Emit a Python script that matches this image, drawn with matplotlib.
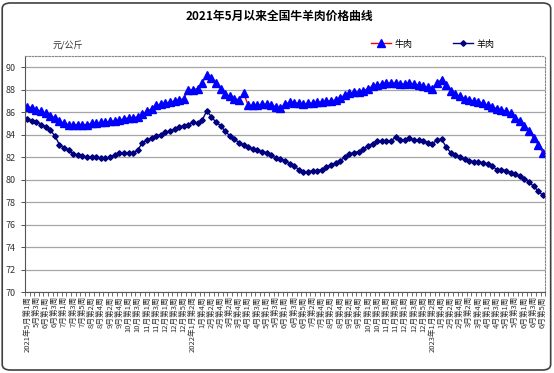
import matplotlib
matplotlib.use('Agg')
import matplotlib.pyplot as plt
from matplotlib.patches import FancyBboxPatch

plt.rcParams['font.family'] = ['Noto Sans CJK SC', 'DejaVu Sans']

# weeks in each month (year, month, number of weeks)
weeks_per_month = [
    (2021, 5, 4), (2021, 6, 4), (2021, 7, 5), (2021, 8, 4), (2021, 9, 5),
    (2021, 10, 4), (2021, 11, 4), (2021, 12, 5),
    (2022, 1, 4), (2022, 2, 4), (2022, 3, 5), (2022, 4, 4), (2022, 5, 4),
    (2022, 6, 5), (2022, 7, 4), (2022, 8, 4), (2022, 9, 5), (2022, 10, 4),
    (2022, 11, 4), (2022, 12, 5),
    (2023, 1, 4), (2023, 2, 4), (2023, 3, 5), (2023, 4, 4), (2023, 5, 4),
    (2023, 6, 5),
]

beef = [
    86.5, 86.4, 86.2, 86.1, 85.9, 85.7, 85.5, 85.2, 85.0, 84.9,
    84.9, 84.9, 84.9, 84.9, 85.0, 85.0, 85.1, 85.1, 85.2, 85.2,
    85.3, 85.4, 85.5, 85.5, 85.6, 85.8, 86.1, 86.3, 86.6, 86.7,
    86.8, 86.9, 87.0, 87.1, 87.2, 88.0, 88.0, 88.1, 88.6, 89.3,
    89.0, 88.6, 88.1, 87.6, 87.4, 87.2, 87.1, 87.7, 86.6, 86.6,
    86.6, 86.7, 86.7, 86.6, 86.5, 86.4, 86.7, 86.9, 86.8, 86.8,
    86.7, 86.8, 86.8, 86.9, 86.9, 87.0, 87.0, 87.1, 87.3, 87.5,
    87.7, 87.8, 87.8, 87.9, 88.1, 88.3, 88.4, 88.5, 88.6, 88.6,
    88.6, 88.5, 88.5, 88.6, 88.5, 88.4, 88.3, 88.2, 88.1, 88.6,
    88.9, 88.4, 87.9, 87.6, 87.4, 87.2, 87.1, 87.0, 86.9, 86.8,
    86.6, 86.5, 86.3, 86.2, 86.1, 85.9, 85.5, 85.2, 84.8, 84.3,
    83.7, 83.1, 82.4,
]

mutton = [
    85.4, 85.2, 85.1, 84.9, 84.7, 84.4, 83.9, 83.1, 82.8, 82.6,
    82.3, 82.2, 82.1, 82.0, 82.0, 82.0, 81.9, 81.9, 82.0, 82.2,
    82.4, 82.4, 82.4, 82.4, 82.6, 83.3, 83.5, 83.7, 83.9, 84.0,
    84.2, 84.3, 84.5, 84.7, 84.8, 84.9, 85.1, 85.0, 85.3, 86.1,
    85.6, 85.1, 84.8, 84.3, 83.9, 83.6, 83.3, 83.1, 82.9, 82.7,
    82.6, 82.5, 82.4, 82.2, 81.9, 81.8, 81.7, 81.4, 81.2, 80.9,
    80.7, 80.7, 80.8, 80.8, 80.9, 81.1, 81.3, 81.5, 81.7, 82.0,
    82.3, 82.4, 82.5, 82.7, 83.0, 83.2, 83.4, 83.4, 83.4, 83.4,
    83.8, 83.5, 83.5, 83.7, 83.5, 83.5, 83.4, 83.3, 83.2, 83.5,
    83.6, 82.9, 82.4, 82.2, 82.0, 81.8, 81.7, 81.6, 81.6, 81.5,
    81.4, 81.2, 80.9, 80.9, 80.8, 80.6, 80.5, 80.3, 80.1, 79.8,
    79.4, 79.0, 78.6,
]

# build week labels, year prefix on the first shown label of each year
labels = []
for year, month, n in weeks_per_month:
    for w in range(1, n + 1):
        labels.append((year, '%d月第%d周' % (month, w)))
tick_pos = list(range(0, len(labels), 2))
tick_txt = []
seen = set()
for p in tick_pos:
    year, txt = labels[p]
    if year not in seen:
        seen.add(year)
        txt = '%d年%s' % (year, txt)
    tick_txt.append(txt)

fig = plt.figure(figsize=(5.54, 3.73), dpi=100)
ax = fig.add_axes([0.045, 0.217, 0.939, 0.633])

x = range(len(beef))
l1, = ax.plot(x, beef, color='#FF0000', lw=1.0, marker='^', markersize=5.2,
              markerfacecolor='#0000FF', markeredgecolor='#0000FF', label='牛肉')
l2, = ax.plot(x, mutton, color='#000080', lw=1.0, marker='D', markersize=2.8,
              markerfacecolor='#000080', markeredgecolor='#000080', label='羊肉')

ax.set_xlim(-0.5, len(beef) - 0.5)
ax.set_ylim(70, 91)
ax.set_yticks(range(70, 91, 2))
ax.yaxis.grid(True, color='#a6a6a6', lw=0.9)
ax.set_axisbelow(True)
ax.tick_params(axis='y', labelsize=6.5, colors='#333333', length=3, width=0.6)

ax.set_xticks(tick_pos)
ax.set_xticklabels(tick_txt, rotation=90, fontsize=5.5, color='#333333')
ax.set_xticks([i - 0.5 for i in range(len(beef) + 1)], minor=True)
ax.tick_params(axis='x', which='major', length=0, pad=3)
ax.tick_params(axis='x', which='minor', length=3, width=0.6, color='#555555')

for side in ('top', 'right'):
    ax.spines[side].set_linestyle((0, (1.5, 1.5)))
    ax.spines[side].set_color('#888888')
    ax.spines[side].set_linewidth(0.8)
ax.spines['left'].set_color('#555555')
ax.spines['bottom'].set_color('#555555')

fig.text(0.505, 0.955, '2021年5月以来全国牛羊肉价格曲线', ha='center', va='center',
         fontsize=8.5, fontweight='bold')
fig.text(0.094, 0.877, '元/公斤', ha='left', va='center', fontsize=6.5, color='#333333')
fig.legend(handles=[l1, l2], loc='center left', bbox_to_anchor=(0.655, 0.882),
           ncol=2, frameon=False, fontsize=6.5, handlelength=2.2, columnspacing=4.5,
           handletextpad=0.4)

frame = FancyBboxPatch((0.004, 0.008), 0.99, 0.984, boxstyle='round,pad=0,rounding_size=0.015',
                       transform=fig.transFigure, fill=False, edgecolor='#404040', lw=1.2)
fig.patches.append(frame)

fig.savefig('out.png', dpi=100)
